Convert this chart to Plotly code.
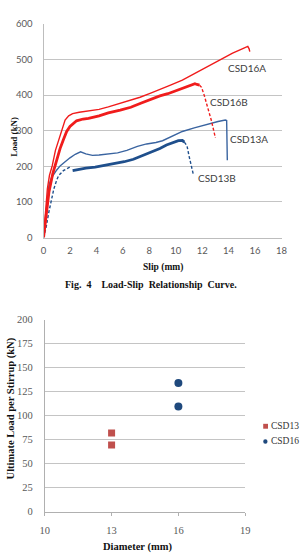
import plotly.graph_objects as go

# ---------- Fig. 4 Load-slip data ----------
csd16a_slip = [0, 0.1, 0.29, 0.45, 0.66, 0.9, 1.14, 1.4, 1.63, 1.9, 2.2, 2.7, 3.2, 3.7, 4.2, 4.9, 5.6, 6.4,
               7.3, 8.06, 8.8, 9.6, 10.5, 11.3, 12.1, 12.9, 13.6, 14.3, 14.9, 15.3, 15.45, 15.55, 15.6]
csd16a_load = [0, 45, 137, 175, 202, 245, 275, 305, 330, 342, 348, 352, 354, 356, 360, 367, 375, 384,
               394, 405, 417, 428, 442, 458, 474, 490, 505, 518, 528, 533, 537, 530, 522]

csd16b_slip = [0, 0.15, 0.41, 0.7, 1.0, 1.25, 1.5, 1.75, 2.0, 2.5, 3.0, 3.4, 4.2, 4.9, 5.8, 6.6, 7.4,
               8.06, 8.8, 9.4, 10.0, 10.6, 11.0, 11.45, 11.6, 11.8]
csd16b_load = [0, 50, 128, 180, 220, 250, 275, 298, 312, 328, 333, 335, 342, 350, 358, 366, 378,
               388, 398, 404, 412, 420, 427, 432, 430, 428]
csd16b_tail_slip = [11.8, 11.95, 12.15, 12.4, 12.7, 13.0]
csd16b_tail_load = [428, 422, 400, 370, 328, 280]

csd13a_slip = [0, 0.15, 0.41, 0.6, 0.78, 1.0, 1.27, 1.6, 2.0, 2.4, 2.8, 3.2, 3.7, 4.2, 4.9, 5.6, 6.3,
               7.1, 7.8, 8.5, 9.0, 9.6, 10.5, 11.4, 12.1, 12.7, 13.2, 13.75, 13.85, 13.9]
csd13a_load = [0, 60, 147, 168, 179, 190, 202, 213, 224, 234, 241, 235, 231, 232, 234, 238, 245,
               256, 263, 267, 272, 283, 298, 308, 315, 322, 326, 330, 329, 217]

csd13b_head_slip = [0, 0.2, 0.41, 0.6, 0.78, 1.0, 1.14, 1.5, 1.8, 2.1]
csd13b_head_load = [0, 30, 73, 110, 137, 162, 174, 188, 195, 200]
csd13b_slip = [2.2, 2.6, 3.2, 3.9, 4.66, 5.4, 6.1, 6.8, 7.6, 8.06, 8.8, 9.3, 9.8, 10.2, 10.5, 10.65]
csd13b_load = [188, 191, 195, 198, 203, 207, 213, 220, 232, 240, 250, 260, 267, 272, 273, 268]
csd13b_tail_slip = [10.65, 10.85, 11.0, 11.2, 11.35]
csd13b_tail_load = [268, 258, 230, 200, 174]

curve_labels = ["CSD16A", "CSD16B", "CSD13A", "CSD13B"]
label_slip = [15.4, 14.05, 15.55, 13.15]
label_load = [477, 382, 276, 168]

slip_ticks = [0, 2, 4, 6, 8, 10, 12, 14, 16, 18]

# ---------- Ultimate load per stirrup data ----------
csd13_diam = [13, 13]
csd13_load = [82, 69.5]
csd16_diam = [16, 16]
csd16_load = [134, 109.5]
diam_ticks = [10, 13, 16, 19]

RED = "#f01c1c"
BLUE_A = "#3a64a0"
BLUE_B = "#1f4f8c"
SANS = "Lato, 'Liberation Sans', sans-serif"
SERIF = "'Liberation Serif', 'Times New Roman', serif"
GRID = "#c4c4c4"
TICK = "#595959"
DASH = "3px,2px"

fig = go.Figure()

def line(x, y, color, width, dash="solid", xa="x", ya="y"):
    fig.add_trace(go.Scatter(x=x, y=y, mode="lines", line=dict(color=color, width=width, dash=dash),
                             xaxis=xa, yaxis=ya, showlegend=False, hoverinfo="skip"))

line(csd13b_head_slip, csd13b_head_load, BLUE_B, 1.4, DASH)
line(csd13b_slip, csd13b_load, BLUE_B, 2.8)
line(csd13b_tail_slip, csd13b_tail_load, BLUE_B, 1.4, DASH)
line(csd13a_slip, csd13a_load, BLUE_A, 1.4)
line(csd16b_slip, csd16b_load, RED, 2.8)
line(csd16b_tail_slip, csd16b_tail_load, RED, 1.4, DASH)
line(csd16a_slip, csd16a_load, RED, 1.4)

fig.add_trace(go.Scatter(x=csd13_diam, y=csd13_load, mode="markers", name="CSD13",
                         marker=dict(symbol="square", size=7, color="#c0504d"),
                         xaxis="x2", yaxis="y2", showlegend=False))
fig.add_trace(go.Scatter(x=csd16_diam, y=csd16_load, mode="markers", name="CSD16",
                         marker=dict(symbol="circle", size=8, color="#1f497d"),
                         xaxis="x2", yaxis="y2", showlegend=False))

W, H = 301, 558
def px(x): return x / W
def py(y): return 1 - y / H

annotations = []
for t, sx, sy in zip(curve_labels, label_slip, label_load):
    annotations.append(dict(text=t, x=sx, y=sy, xref="x", yref="y", showarrow=False,
                            font=dict(family=SANS, size=10, color="#404040")))

def ptext(t, x, y, size, angle=0, family=SERIF, bold=True, xanchor="center", color="#111111"):
    annotations.append(dict(text=f"<b>{t}</b>" if bold else t, x=px(x), y=py(y), xref="paper", yref="paper",
                            showarrow=False, textangle=angle, xanchor=xanchor, yanchor="middle",
                            font=dict(family=family, size=size, color=color)))

ptext("Load (kN)", 9, 134, 9, angle=-90)
ptext("Slip (mm)", 164, 267.5, 9.5)
ptext("Fig.  4    Load-Slip  Relationship  Curve.", 152, 285, 10)
ptext("Ultimate Load per Stirrup (kN)", 6.5, 411, 10.5, angle=-90)
ptext("Diameter (mm)", 138, 553, 10.5)
ptext("CSD13", 273.5, 429.5, 9.5, bold=False, xanchor="left", color="#333333")
ptext("CSD16", 273.5, 445, 9.5, bold=False, xanchor="left", color="#333333")

shapes = [
    dict(type="rect", xref="paper", yref="paper", x0=px(268), x1=px(273), y0=py(432), y1=py(427),
         fillcolor="#c0504d", line=dict(width=0)),
    dict(type="circle", xref="paper", yref="paper", x0=px(268), x1=px(272.5), y0=py(447.3), y1=py(442.8),
         fillcolor="#1f497d", line=dict(width=0)),
]

fig.update_layout(
    width=W, height=H, margin=dict(l=0, r=0, t=0, b=0),
    paper_bgcolor="white", plot_bgcolor="white", showlegend=False,
    annotations=annotations, shapes=shapes,
    xaxis=dict(domain=[px(40), px(287)], range=[0, 18], tickvals=slip_ticks, showgrid=False,
               showline=True, linecolor="#bdbdbd", linewidth=1, zeroline=False, ticks="",
               ticklabelstandoff=4,
               tickfont=dict(family=SANS, size=9.5, color=TICK), anchor="y"),
    yaxis=dict(domain=[py(236.7), py(18.3)], range=[0, 600], dtick=100, showgrid=True, gridcolor=GRID,
               showline=True, linecolor="#bdbdbd", linewidth=1, zeroline=False, ticks="",
               ticklabelstandoff=8,
               tickfont=dict(family=SANS, size=9.5, color=TICK), anchor="x"),
    xaxis2=dict(domain=[px(41.3), px(249.3)], range=[10, 19], tickvals=diam_ticks, showgrid=False,
                showline=True, linecolor="#b0b0b0", linewidth=1, zeroline=False, ticks="outside",
                ticklen=3, tickcolor="#b0b0b0", ticklabelstandoff=6,
                tickfont=dict(family=SERIF, size=10.5, color=TICK), anchor="y2"),
    yaxis2=dict(domain=[py(516.7), py(320.7)], range=[0, 200], dtick=25, showgrid=True, gridcolor=GRID,
                showline=True, linecolor="#b0b0b0", linewidth=1, zeroline=False, ticks="",
                ticklabelstandoff=9,
                tickfont=dict(family=SERIF, size=10.5, color=TICK), anchor="x2"),
)

fig.write_html("out.html")
